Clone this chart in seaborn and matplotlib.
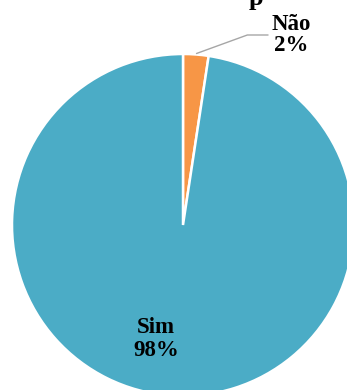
import matplotlib
matplotlib.use("Agg")
import matplotlib.pyplot as plt
import seaborn as sns
import numpy as np

categories = ["Não", "Sim"]
values = [2.4, 97.6]
colors = ["#F79646", "#4BACC6"]

sns.set_style("white")
plt.rcParams['font.family'] = ['Liberation Serif', 'DejaVu Serif']
plt.rcParams['text.color'] = 'black'

W, H = 347, 390
fig = plt.figure(figsize=(W / 100, H / 100), dpi=100)
ax = fig.add_axes([0, 0, 1, 1])

cx, cy, R = 183.0, 225.0, 171.0
def d(px, py):
    return (px - cx) / R, (cy - py) / R

wedges, _ = ax.pie(values, colors=colors, startangle=90, counterclock=False,
                   radius=1.0, center=(0, 0),
                   wedgeprops=dict(edgecolor="white", linewidth=1.8))
ax.set_aspect('auto')
ax.set_xlim(-cx / R, (W - cx) / R)
ax.set_ylim(-(H - cy) / R, cy / R)
ax.set_axis_off()

pcts = [f"{v:.0f}%" for v in values]

# Não label with leader line
ax.annotate(f"{categories[0]}\n{pcts[0]}", xy=d(196.5, 53.5), xytext=d(291, 35),
            ha="center", va="center", fontsize=16.5, fontweight="bold",
            color="black", linespacing=1.05,
            arrowprops=dict(arrowstyle="-", color="#A6A6A6", lw=1.0,
                            shrinkA=0, shrinkB=0, relpos=(0, 0.5),
                            connectionstyle="angle,angleA=0,angleB=20,rad=0"),
            annotation_clip=False)

# Sim label
ax.text(*d(156, 339), f"{categories[1]}\n{pcts[1]}", ha="center", va="center",
        fontsize=16.5, fontweight="bold", color="black", linespacing=1.1)

# partially visible title
fig.text(256 / W, 1 - 5 / H, "p", ha="center", va="baseline",
         fontsize=19, fontweight="bold", color="black")

fig.savefig("out.png", dpi=100)
